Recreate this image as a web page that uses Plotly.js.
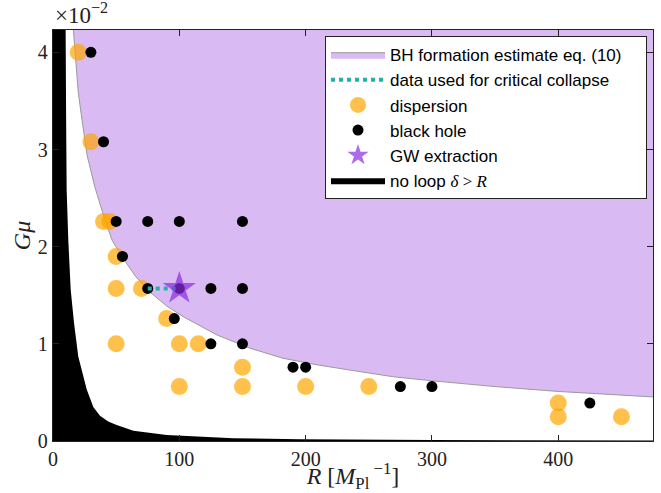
<!DOCTYPE html>
<html>
<head>
<meta charset="utf-8">
<script src="https://cdn.plot.ly/plotly-3.0.1.min.js"></script>
<style>html,body{margin:0;padding:0;background:#fff;}#chart{width:661px;height:493px;}</style>
</head>
<body>
<div id="chart"></div>
<script>
// Dispersion runs
const dispR = [20, 30, 40, 45, 50, 50, 70, 90, 50, 100, 115, 150, 100, 150, 200, 250, 400, 400, 450];
const dispG = [0.04, 0.0308, 0.0226, 0.0226, 0.019, 0.0157, 0.0157, 0.0126, 0.01, 0.01, 0.01, 0.0076, 0.0056, 0.0056, 0.0056, 0.0056, 0.0039, 0.0025, 0.0025];
// Black hole runs
const bhR = [30, 40, 50, 75, 100, 150, 55, 75, 100, 125, 150, 96, 125, 150, 190, 200, 275, 300, 425];
const bhG = [0.04, 0.0308, 0.0226, 0.0226, 0.0226, 0.0226, 0.019, 0.0157, 0.0157, 0.0157, 0.0157, 0.0126, 0.01, 0.01, 0.0076, 0.0076, 0.0056, 0.0056, 0.0039];
// GW extraction
const gwR = [100];
const gwG = [0.0157];
// Critical collapse data
const critR = [75, 100];
const critG = [0.0157, 0.0157];
// BH formation estimate boundary (eq. 10)
const estR = [16, 18, 20, 23, 27, 33, 41, 47, 55, 65, 77, 90, 103, 130, 156, 182, 209, 235, 270, 300, 350, 400, 440, 480];
const estG = [0.0425, 0.039, 0.0359, 0.033, 0.0294, 0.0262, 0.0228, 0.0206, 0.0189, 0.017, 0.0153, 0.0139, 0.0128, 0.0109, 0.00955, 0.00852, 0.00784, 0.0073, 0.0066, 0.0062, 0.0056, 0.0051, 0.0048, 0.0045];
// No loop boundary (delta > R)
const noLoopR = [10.0, 10.4, 10.8, 12.1, 14, 16.6, 20, 26.7, 31.9, 37.2, 43.7, 50.4, 63.6, 90, 116, 142.6, 195.6, 300, 480];
const noLoopG = [0.0424, 0.033, 0.0259, 0.0207, 0.0156, 0.0122, 0.0087, 0.0053, 0.0035, 0.0026, 0.002, 0.00165, 0.00106, 0.00062, 0.00044, 0.00028, 0.00018, 0.0001, 0.00005];

const xTicks = [0, 100, 200, 300, 400];
const yTicks = [0, 0.01, 0.02, 0.03, 0.04];
const yTickText = ['0', '1', '2', '3', '4'];

const X_MAX = 475, Y_MAX = 0.0423;
const OUT_Y = 0.05, OUT_X = 500;

const serif = 'Liberation Serif, DejaVu Serif, serif';
const sans = 'Liberation Sans, Arial, sans-serif';
const PAD = '&nbsp;'.repeat(4);

const traces = [
  {
    x: [0].concat(noLoopR, [OUT_X, 0]),
    y: [noLoopG[0]].concat(noLoopG, [0, 0]),
    type: 'scatter', mode: 'lines', fill: 'toself',
    fillcolor: 'black', line: {width: 0, color: 'black'},
    name: 'no loop <span style="font-family:Liberation Serif"><i>δ</i> &gt; <i>R</i></span>',
    legendrank: 6, legendgroup: 'g6', hoverinfo: 'skip'
  },
  {
    x: estR.concat([OUT_X, estR[0]]),
    y: estG.concat([OUT_Y, OUT_Y]),
    type: 'scatter', mode: 'lines', fill: 'toself',
    fillcolor: 'rgb(217,186,243)', line: {width: 1, color: '#9a9a9a'},
    name: 'BH formation estimate eq. (10)' + PAD,
    legendrank: 1, legendgroup: 'g1', hoverinfo: 'skip'
  },
  {
    x: dispR, y: dispG, type: 'scatter', mode: 'markers',
    marker: {size: 17, color: 'rgba(255,165,0,0.7)', line: {width: 0}},
    name: 'dispersion', legendrank: 3, legendgroup: 'g3', cliponaxis: false
  },
  {
    x: bhR, y: bhG, type: 'scatter', mode: 'markers',
    marker: {size: 11, color: 'black', line: {width: 0}},
    name: 'black hole', legendrank: 4, legendgroup: 'g4', cliponaxis: false
  },
  {
    x: critR, y: critG, type: 'scatter', mode: 'lines',
    line: {color: 'rgb(32,178,170)', width: 4, dash: 'dot'},
    name: 'data used for critical collapse', legendrank: 2, legendgroup: 'g2'
  },
  {
    x: gwR, y: gwG, type: 'scatter', mode: 'markers',
    marker: {size: 25, symbol: 'star', color: 'rgba(138,43,226,0.7)', line: {width: 0}},
    name: 'GW extraction', legendrank: 5, legendgroup: 'g5'
  }
];

const layout = {
  width: 661, height: 493,
  margin: {l: 53, r: 8, t: 30, b: 52, pad: 0, autoexpand: false},
  paper_bgcolor: 'white', plot_bgcolor: 'white',
  showlegend: true,
  legend: {
    x: 0.99, y: 0.985, xanchor: 'right', yanchor: 'top',
    bgcolor: 'white', bordercolor: '#222', borderwidth: 1,
    font: {family: sans, size: 17, color: 'black'},
    traceorder: 'grouped', tracegroupgap: 0, itemwidth: 54
  },
  xaxis: {
    range: [0, X_MAX], tickvals: xTicks, ticktext: xTicks.map(String),
    ticks: 'inside', ticklen: 6, tickcolor: '#222',
    showline: true, mirror: 'ticks', linecolor: '#222', linewidth: 1.2,
    showgrid: false, zeroline: false,
    tickfont: {family: serif, size: 20, color: '#222'},
    title: {text: '<i>R</i> [<i>M</i><sub>Pl</sub><sup> −1</sup>]', font: {family: serif, size: 24, color: '#222'}, standoff: 7}
  },
  yaxis: {
    range: [0, Y_MAX], tickvals: yTicks, ticktext: yTickText,
    ticks: 'inside', ticklen: 6, tickcolor: '#222',
    showline: true, mirror: 'ticks', linecolor: '#222', linewidth: 1.2,
    showgrid: false, zeroline: false,
    tickfont: {family: serif, size: 20, color: '#222'},
    title: {text: '<i>Gμ</i>', font: {family: serif, size: 24, color: '#222'}, standoff: 0}
  },
  annotations: [{
    xref: 'paper', yref: 'paper', x: 0, y: 1, xanchor: 'left', yanchor: 'bottom',
    text: '×10<sup>−2</sup>', showarrow: false,
    font: {family: serif, size: 23, color: '#222'}
  }]
};

Plotly.newPlot('chart', traces, layout, {displayModeBar: false, staticPlot: true});
</script>
</body>
</html>
